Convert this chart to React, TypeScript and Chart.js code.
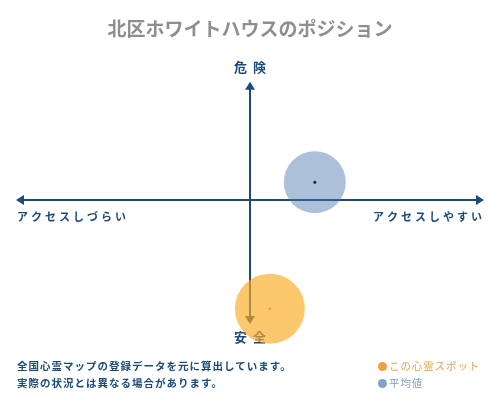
import { useEffect, useRef } from "react";
import { Chart, registerables, BubbleController } from "chart.js";

// Bubble controller that does not reserve layout padding for its radii,
// so the plot area can run to the canvas edges like the reference.
class FlatBubbleController extends BubbleController {
  static id = "flatBubble";
  static defaults = BubbleController.defaults;
  static overrides = BubbleController.overrides;
  getMaxOverflow() {
    return false as any;
  }
}

Chart.register(...registerables, FlatBubbleController);

const TITLE = "北区ホワイトハウスのポジション";
const AXIS_TOP = "危険";
const AXIS_BOTTOM = "安全";
const AXIS_LEFT = "アクセスしづらい";
const AXIS_RIGHT = "アクセスしやすい";

const SERIES_LABELS = ["この心霊スポット", "平均値"];
const SERIES_X = [0.085, 0.277];
const SERIES_Y = [-0.92, 0.15];
const SERIES_R = [35, 31];

const NOTES = [
  "全国心霊マップの登録データを元に算出しています。",
  "実際の状況とは異なる場合があります。",
];

const NAVY = "#1d4a78";
const ORANGE = "rgba(252,170,30,0.65)";
const BLUE = "rgba(70,115,170,0.45)";
const FONT = '"Noto Sans CJK JP", "Noto Sans", sans-serif';

const axesPlugin = {
  id: "quadrantAxes",
  beforeDatasetsDraw(chart: Chart) {
    const { ctx, scales } = chart;
    const xs = scales.x;
    const ys = scales.y;
    const x0 = xs.getPixelForValue(0);
    const y0 = ys.getPixelForValue(0);
    const left = xs.getPixelForValue(xs.min);
    const right = xs.getPixelForValue(xs.max);
    const top = ys.getPixelForValue(ys.max);
    const bottom = ys.getPixelForValue(ys.min);
    const head = 5;

    ctx.save();
    ctx.strokeStyle = NAVY;
    ctx.fillStyle = NAVY;
    ctx.lineWidth = 2;

    ctx.beginPath();
    ctx.moveTo(left + 3, y0);
    ctx.lineTo(right - 3, y0);
    ctx.moveTo(x0, top + 3);
    ctx.lineTo(x0, bottom - 3);
    ctx.stroke();

    const tri = (pts: number[][]) => {
      ctx.beginPath();
      ctx.moveTo(pts[0][0], pts[0][1]);
      ctx.lineTo(pts[1][0], pts[1][1]);
      ctx.lineTo(pts[2][0], pts[2][1]);
      ctx.closePath();
      ctx.fill();
    };
    tri([[left, y0], [left + 8, y0 - head], [left + 8, y0 + head]]);
    tri([[right, y0], [right - 8, y0 - head], [right - 8, y0 + head]]);
    tri([[x0, top], [x0 - head, top + 8], [x0 + head, top + 8]]);
    tri([[x0, bottom], [x0 - head, bottom - 8], [x0 + head, bottom - 8]]);

    ctx.textBaseline = "middle";
    ctx.font = `bold 13px ${FONT}`;
    (ctx as any).letterSpacing = "6px";
    ctx.textAlign = "center";
    ctx.fillText(AXIS_TOP, x0 + 3, top - 15);
    ctx.fillText(AXIS_BOTTOM, x0 + 3, bottom + 13);

    ctx.font = `bold 11px ${FONT}`;
    (ctx as any).letterSpacing = "3px";
    ctx.textAlign = "left";
    ctx.fillText(AXIS_LEFT, left + 1, y0 + 17);
    ctx.textAlign = "right";
    ctx.fillText(AXIS_RIGHT, right + 1, y0 + 17);
    ctx.restore();
  },
};

export default function App() {
  const canvasRef = useRef<HTMLCanvasElement>(null);
  const chartRef = useRef<Chart | null>(null);

  useEffect(() => {
    document.body.style.margin = "0";
    if (!canvasRef.current) return;
    if (chartRef.current) chartRef.current.destroy();

    const colors = [ORANGE, BLUE];
    const dotColors = ["#f5a020", "#222222"];

    chartRef.current = new Chart(canvasRef.current, {
      type: "flatBubble" as any,
      data: {
        datasets: [
          {
            label: "centers",
            data: SERIES_X.map((x, i) => ({ x, y: SERIES_Y[i], r: 1.5 })),
            backgroundColor: dotColors,
            borderWidth: 0,
            clip: false,
          },
          ...SERIES_LABELS.map((label, i) => ({
            label,
            data: [{ x: SERIES_X[i], y: SERIES_Y[i], r: SERIES_R[i] }],
            backgroundColor: colors[i],
            borderWidth: 0,
            clip: false,
          })),
        ],
      },
      options: {
        animation: false,
        responsive: false,
        layout: { padding: { left: 16, right: 16, top: 0, bottom: 76 } },
        plugins: {
          legend: { display: false },
          tooltip: { enabled: false },
          title: {
            display: true,
            text: TITLE,
            color: "#8f8f8f",
            font: { family: FONT, size: 19, weight: "bold" },
            padding: { top: 17, bottom: 42 },
          },
        },
        scales: {
          x: { display: false, min: -1, max: 1 },
          y: { display: false, min: -1.05, max: 1 },
        },
      },
      plugins: [axesPlugin],
    });

    return () => {
      if (chartRef.current) {
        chartRef.current.destroy();
        chartRef.current = null;
      }
    };
  }, []);

  const noteStyle = {
    position: "absolute" as const,
    left: 17,
    fontFamily: FONT,
    fontSize: 10.5,
    fontWeight: "bold" as const,
    letterSpacing: "1px",
    color: NAVY,
    lineHeight: "14px",
    whiteSpace: "nowrap" as const,
  };
  const legendStyle = {
    position: "absolute" as const,
    left: 378,
    fontFamily: FONT,
    fontSize: 10.5,
    letterSpacing: "0.9px",
    lineHeight: "14px",
    whiteSpace: "nowrap" as const,
    display: "flex",
    alignItems: "center",
  };
  const dot = (c: string) => ({
    display: "inline-block",
    width: 9,
    height: 9,
    borderRadius: "50%",
    background: c,
    marginRight: 2,
  });

  return (
    <div style={{ position: "relative", width: 500, height: 400, background: "#fff" }}>
      <canvas ref={canvasRef} width={500} height={400} style={{ display: "block" }} />
      <div style={{ ...noteStyle, top: 359 }}>{NOTES[0]}</div>
      <div style={{ ...noteStyle, top: 376 }}>{NOTES[1]}</div>
      <div style={{ ...legendStyle, top: 359, color: "#e8a04a" }}>
        <span style={dot("#f0a040")} />
        {SERIES_LABELS[0]}
      </div>
      <div style={{ ...legendStyle, top: 376, color: "#7f9fc2" }}>
        <span style={dot("#7fa3c8")} />
        {SERIES_LABELS[1]}
      </div>
    </div>
  );
}
